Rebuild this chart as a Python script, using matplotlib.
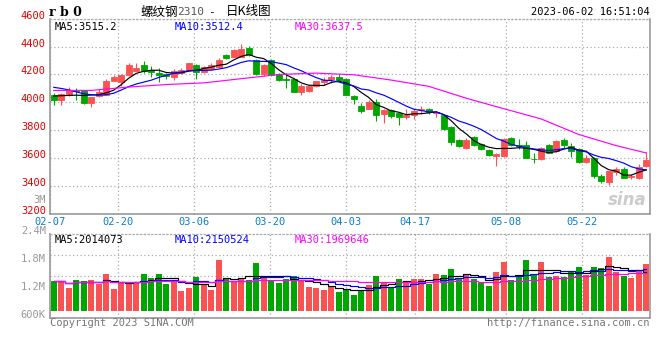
import numpy as np
import pandas as pd
import matplotlib
matplotlib.use("Agg")
import matplotlib.pyplot as plt

# rb0 daily K line, 80 trading days from 02-07 to 06-02
opens = [4050, 4014, 4055, 4086, 4086, 3996, 4043, 4055, 4155, 4143,
         4193, 4226, 4269, 4234, 4210, 4200, 4179, 4210, 4234, 4269,
         4221, 4240, 4257, 4341, 4329, 4329, 4393, 4305, 4205, 4305,
         4205, 4169, 4169, 4071, 4083, 4114, 4146, 4169, 4181, 4169,
         4048, 3971, 3955, 4002, 3917, 3948, 3924, 3893, 3907, 3948,
         3955, 3926, 3912, 3821, 3729, 3674, 3752, 3705, 3662, 3614,
         3614, 3745, 3698, 3698, 3595, 3595, 3693, 3650, 3729, 3690,
         3667, 3571, 3603, 3471, 3429, 3503, 3524, 3465, 3455, 3543]
highs = [4067, 4066, 4112, 4105, 4090, 4040, 4094, 4169, 4195, 4200,
         4281, 4286, 4295, 4262, 4248, 4210, 4240, 4245, 4281, 4275,
         4262, 4285, 4320, 4350, 4385, 4417, 4405, 4310, 4275, 4310,
         4210, 4212, 4172, 4134, 4125, 4155, 4180, 4195, 4205, 4172,
         4050, 3995, 4019, 4024, 3955, 3955, 3930, 3952, 3955, 3974,
         3962, 3940, 3920, 3830, 3735, 3745, 3760, 3710, 3665, 3638,
         3745, 3755, 3738, 3720, 3638, 3680, 3700, 3730, 3745, 3710,
         3672, 3625, 3608, 3490, 3510, 3535, 3540, 3490, 3555, 3643]
lows = [3979, 3984, 4048, 4019, 3990, 3964, 4038, 4050, 4150, 4120,
        4188, 4222, 4212, 4183, 4143, 4165, 4160, 4205, 4230, 4171,
        4210, 4235, 4250, 4310, 4325, 4325, 4335, 4195, 4190, 4190,
        4150, 4105, 4071, 4050, 4078, 4110, 4125, 4140, 4160, 4050,
        3990, 3924, 3950, 3864, 3850, 3890, 3838, 3880, 3878, 3915,
        3920, 3895, 3805, 3695, 3680, 3665, 3690, 3660, 3615, 3543,
        3610, 3690, 3665, 3600, 3565, 3590, 3635, 3645, 3670, 3610,
        3565, 3565, 3461, 3424, 3407, 3480, 3455, 3450, 3450, 3540]
closes = [4019, 4062, 4091, 4080, 3996, 4036, 4074, 4155, 4179, 4193,
          4267, 4248, 4226, 4219, 4193, 4186, 4226, 4234, 4281, 4221,
          4257, 4269, 4305, 4317, 4376, 4381, 4341, 4203, 4269, 4198,
          4157, 4160, 4071, 4114, 4114, 4150, 4157, 4179, 4162, 4050,
          4024, 3941, 4000, 3907, 3948, 3900, 3893, 3912, 3936, 3955,
          3929, 3931, 3812, 3714, 3686, 3729, 3693, 3667, 3621, 3633,
          3738, 3693, 3691, 3603, 3592, 3674, 3638, 3726, 3698, 3655,
          3571, 3603, 3471, 3436, 3507, 3520, 3460, 3470, 3540, 3590]
volumes = [1389000, 1389000, 1245000, 1417000, 1389000, 1417000, 1318000, 1546000, 1224000, 1346000,
           1346000, 1346000, 1546000, 1460000, 1546000, 1331000, 1389000, 1181000, 1245000, 1482000,
           1331000, 1202000, 1847000, 1439000, 1389000, 1439000, 1417000, 1783000, 1503000, 1383000,
           1353000, 1439000, 1503000, 1396000, 1267000, 1245000, 1202000, 1288000, 1159000, 1224000,
           1082000, 1202000, 1310000, 1503000, 1374000, 1245000, 1439000, 1353000, 1439000, 1439000,
           1331000, 1546000, 1525000, 1654000, 1460000, 1525000, 1439000, 1374000, 1288000, 1589000,
           1804000, 1417000, 1503000, 1847000, 1525000, 1804000, 1482000, 1503000, 1482000, 1589000,
           1697000, 1525000, 1697000, 1675000, 1912000, 1589000, 1503000, 1460000, 1632000, 1761000]

tick_labels = ['02-07', '02-20', '03-06', '03-20', '04-03', '04-17', '05-08', '05-22']
tick_days = [0, 9, 19, 29, 39, 48, 60, 70]

# moving averages whose window starts before 02-07
ma5_head = [4045, 4048, 4050, 4052]
ma10_head = [4108, 4100, 4090, 4075, 4062, 4055, 4052, 4055, 4066]
ma30_days = [0, 5, 10, 15, 20, 25, 30, 35, 40, 45, 50, 55, 60, 65, 70, 75, 79]
ma30_vals = [4086, 4086, 4110, 4128, 4140, 4170, 4200, 4210, 4198, 4160,
             4115, 4030, 3955, 3881, 3770, 3690, 3637.5]

price_ticks = [3200, 3400, 3600, 3800, 4000, 4200, 4400, 4600]
vol_ticks = [600000, 1200000, 1800000, 2400000]
vol_tick_labels = ['600K', '1.2M', '1.8M', '2.4M']

RED = '#fa5252'
GREEN = '#00a600'
GRID = '#aaaaaa'
FRAME = '#999999'
MONO = 'DejaVu Sans Mono'
VOL_FLOOR = 744000

W, H = 660, 360


def px(x, y):
    return x / W, 1 - y / H


def moving_average(values, n, head=None):
    s = pd.Series(values, dtype=float).rolling(n, min_periods=1).mean()
    if head is not None:
        s.iloc[:len(head)] = head
    return s.values


def style_frame(ax):
    for side in ['left', 'right', 'bottom']:
        ax.spines[side].set_color(FRAME)
        ax.spines[side].set_linewidth(1.2)
    ax.spines['top'].set_color(GRID)
    ax.spines['top'].set_linestyle((0, (1, 2)))
    ax.spines['top'].set_linewidth(0.9)
    ax.tick_params(length=0)


o = np.array(opens)
c = np.array(closes)
x = np.arange(len(closes))
up = c >= o
colors = np.where(up, RED, GREEN)
tick_pos = [-0.5 + d * 80 / 79 for d in tick_days]

fig = plt.figure(figsize=(W / 100, H / 100), dpi=100)
ax = fig.add_axes([50 / W, 1 - 214 / H, 600 / W, (214 - 18.7) / H])
axv = fig.add_axes([50 / W, 1 - 317.7 / H, 600 / W, (317.7 - 234) / H])

# price panel
ax.vlines(x, lows, highs, colors=colors, lw=0.8, zorder=3)
ax.bar(x, c - o, bottom=o, width=0.8, color=colors, edgecolor=colors, lw=0.6, zorder=3)
ax.plot(x, moving_average(closes, 5, ma5_head), color='black', lw=0.85, zorder=4)
ax.plot(x, moving_average(closes, 10, ma10_head), color='#0000ff', lw=0.85, zorder=4)
ax.plot(ma30_days, ma30_vals, color='#ff00ff', lw=0.85, zorder=4)

ax.set_xlim(-0.5, 79.5)
ax.set_ylim(3200, 4600)
ax.set_yticks(price_ticks)
ax.set_yticklabels([str(t) for t in price_ticks], color='#e00000', family=MONO, fontsize=7.5)
for lbl in ax.get_yticklabels():
    lbl.set_va('baseline')
ax.set_xticks(tick_pos)
ax.set_xticklabels(tick_labels, color='#0a7fcc', family=MONO, fontsize=7.5)
ax.tick_params(axis='y', pad=3)
ax.tick_params(axis='x', pad=2.5)
ax.grid(True, ls=(0, (1, 2)), color=GRID, lw=0.9)
ax.set_axisbelow(True)
style_frame(ax)

ax.text(0.008, 0.985, 'MA5:3515.2', transform=ax.transAxes, va='top', family=MONO, fontsize=7.5, color='black')
ax.text(0.208, 0.985, 'MA10:3512.4', transform=ax.transAxes, va='top', family=MONO, fontsize=7.5, color='#0000ff')
ax.text(0.408, 0.985, 'MA30:3637.5', transform=ax.transAxes, va='top', family=MONO, fontsize=7.5, color='#ff00ff')
ax.text(0.995, 0.025, 'sina', transform=ax.transAxes, ha='right', va='bottom', fontsize=12,
        style='italic', weight='bold', color='#cccccc', zorder=1)

# volume panel
vol = np.array(volumes)
axv.bar(x, vol - VOL_FLOOR, bottom=VOL_FLOOR, width=0.8, color=colors, lw=0)
axv.plot(x, moving_average(volumes, 5), color='black', lw=0.85, drawstyle='steps-mid')
axv.plot(x, moving_average(volumes, 10), color='#0000ff', lw=0.85, drawstyle='steps-mid')
axv.plot(x, moving_average(volumes, 30), color='#ff00ff', lw=0.85, drawstyle='steps-mid')
axv.set_xlim(-0.5, 79.5)
axv.set_ylim(600000, 2400000)
axv.set_xticks(tick_pos)
axv.set_xticklabels([])
axv.set_yticks(vol_ticks)
axv.set_yticklabels(vol_tick_labels, color='#999999', family=MONO, fontsize=7.5)
for lbl in axv.get_yticklabels():
    lbl.set_va('baseline')
axv.tick_params(axis='y', pad=3)
axv.grid(True, axis='x', ls=(0, (1, 2)), color=GRID, lw=0.9)
for q in [0.25, 0.5, 0.75]:
    axv.axhline(600000 + q * 1800000, ls=(0, (1, 2)), color=GRID, lw=0.9, zorder=0)
axv.set_axisbelow(True)
style_frame(axv)

axv.text(0.008, 0.985, 'MA5:2014073', transform=axv.transAxes, va='top', family=MONO, fontsize=7.5, color='black')
axv.text(0.208, 0.985, 'MA10:2150524', transform=axv.transAxes, va='top', family=MONO, fontsize=7.5, color='#0000ff')
axv.text(0.408, 0.985, 'MA30:1969646', transform=axv.transAxes, va='top', family=MONO, fontsize=7.5, color='#ff00ff')

# header and footer texts
fig.text(*px(49, 12), 'r b 0', family='DejaVu Serif', weight='bold', fontsize=9, va='center')
fig.text(*px(140, 12), '螺纹钢', family=['Noto Sans CJK SC', 'DejaVu Sans'], fontsize=9, va='center')
fig.text(*px(177, 12), '2310', family=MONO, fontsize=8, va='center', color='#555555')
fig.text(*px(208, 12), '-', family=MONO, fontsize=8, va='center')
fig.text(*px(226, 12), '日K线图', family=['Noto Sans CJK SC', 'DejaVu Sans'], fontsize=9, va='center')
fig.text(*px(650, 12), '2023-06-02 16:51:04', family=MONO, fontsize=7.5, ha='right', va='center')
fig.text(*px(46, 200), '3M', family=MONO, fontsize=7.5, ha='right', va='center', color='#999999')
fig.text(*px(50, 323), 'Copyright 2023 SINA.COM', family=MONO, fontsize=7.5, va='center', color='#777777')
fig.text(*px(650, 323), 'http://finance.sina.com.cn', family=MONO, fontsize=7.5, ha='right', va='center', color='#777777')

fig.savefig('out.png', dpi=100, facecolor='white')
